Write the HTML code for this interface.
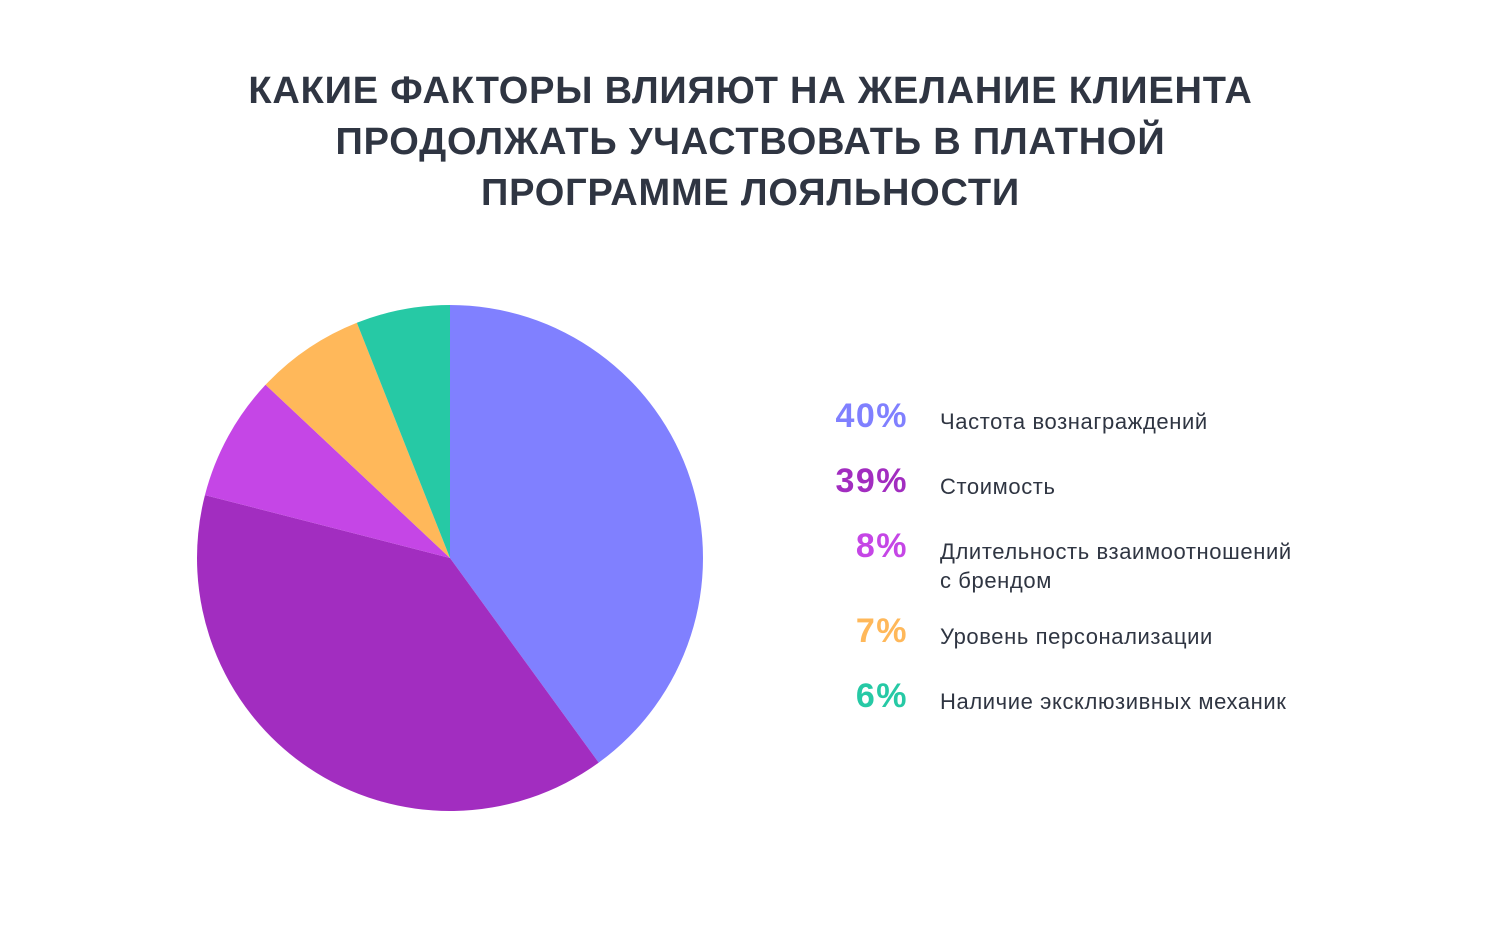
<!DOCTYPE html>
<html><head><meta charset="utf-8">
<style>
body{margin:0;background:#fff;width:1501px;height:930px;overflow:hidden;font-family:"Liberation Sans","DejaVu Sans",sans-serif;position:relative}
#title{position:absolute;left:0;width:1501px;top:66px;text-align:center;font-weight:bold;font-size:38px;line-height:51px;color:#2f3542;letter-spacing:0.8px;margin:0}
.row{position:absolute;left:780px;width:600px}
.pct{position:absolute;left:0;width:128px;text-align:right;font-weight:bold;font-size:34px;letter-spacing:1.5px}
.lbl{position:absolute;left:160px;font-size:22px;line-height:29px;color:#2f3542;width:440px;letter-spacing:0.6px}
</style></head><body>
<h1 id="title">КАКИЕ ФАКТОРЫ ВЛИЯЮТ НА ЖЕЛАНИЕ КЛИЕНТА<br>ПРОДОЛЖАТЬ УЧАСТВОВАТЬ В ПЛАТНОЙ<br>ПРОГРАММЕ ЛОЯЛЬНОСТИ</h1>
<svg id="pie" width="1501" height="930" style="position:absolute;left:0;top:0"></svg>
<div id="legend"></div>
<script>
const categories=["Частота вознаграждений","Стоимость","Длительность взаимоотношений<br>с брендом","Уровень персонализации","Наличие эксклюзивных механик"];
const values=[40,39,8,7,6];
const colors=["#8080ff","#a22dc0","#c546e6","#ffb85a","#26c9a5"];
const cx=450,cy=558,r=253;
const svg=document.getElementById('pie');
const total=values.reduce((a,b)=>a+b,0);
let a0=0;
function pt(a){return [cx+r*Math.sin(a),cy-r*Math.cos(a)];}
values.forEach((v,i)=>{
  const a1=a0+v/total*2*Math.PI;
  const p0=pt(a0),p1=pt(a1);
  const large=(a1-a0)>Math.PI?1:0;
  const p=document.createElementNS('http://www.w3.org/2000/svg','path');
  p.setAttribute('d',`M${cx},${cy}L${p0[0]},${p0[1]}A${r},${r} 0 ${large} 1 ${p1[0]},${p1[1]}Z`);
  p.setAttribute('fill',colors[i]);
  
  
  svg.appendChild(p);
  a0=a1;
});
const tops=[397,462,527,612,677];
const leg=document.getElementById('legend');
values.forEach((v,i)=>{
  const row=document.createElement('div');
  row.className='row';
  row.style.top=tops[i]+'px';
  
  
  const pc=document.createElement('div');
  pc.className='pct';pc.style.color=colors[i];pc.textContent=v+'%';
  
  
  const lb=document.createElement('div');
  lb.className='lbl';lb.style.top='10px';lb.innerHTML=categories[i];
  
  
  row.appendChild(pc);row.appendChild(lb);leg.appendChild(row);
});
</script>
</body></html>
